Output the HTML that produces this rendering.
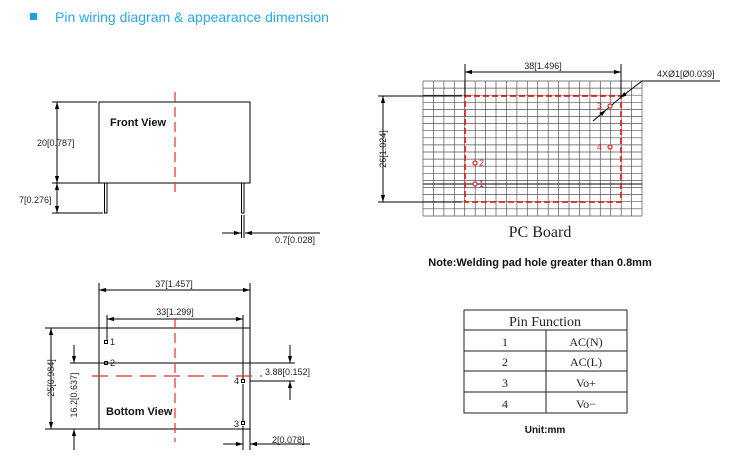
<!DOCTYPE html>
<html><head><meta charset="utf-8"><style>
html,body{margin:0;padding:0;background:#fff;}
svg{display:block;}
text{font-family:"Liberation Sans",sans-serif;}
.s{font-size:9px;fill:#222;}
text.serif{font-family:"Liberation Serif",serif;}
</style></head><body>
<svg width="750" height="462" viewBox="0 0 750 462" xmlns="http://www.w3.org/2000/svg">
<defs>
<marker id="a" viewBox="0 0 10 10" refX="10" refY="5" markerWidth="7" markerHeight="7" orient="auto-start-reverse"><path d="M0 2L10 5L0 8z" fill="#000"/></marker>
</defs>
<rect x="30" y="13" width="7" height="7" fill="#1aa0e6"/>
<text x="55" y="22" font-size="14" fill="#2aa8e2">Pin wiring diagram &amp; appearance dimension</text>

<!-- Front view -->
<g stroke="#000" stroke-width="1" fill="none">
<rect x="99" y="102" width="151" height="81"/>
<rect x="104.5" y="183" width="2.5" height="30"/>
<rect x="241.5" y="183" width="2.5" height="30"/>
<line x1="52" y1="102" x2="97" y2="102"/>
<line x1="52" y1="183" x2="99" y2="183"/>
<line x1="52" y1="213" x2="103" y2="213"/>
<line x1="57" y1="102" x2="57" y2="183" marker-start="url(#a)" marker-end="url(#a)"/>
<line x1="57" y1="183" x2="57" y2="213" marker-start="url(#a)" marker-end="url(#a)"/>
<line x1="241.5" y1="215" x2="241.5" y2="238"/>
<line x1="244" y1="215" x2="244" y2="238"/>
<line x1="222" y1="233" x2="241" y2="233" marker-end="url(#a)"/>
<line x1="265" y1="233" x2="245" y2="233" marker-end="url(#a)"/>
<line x1="265" y1="233" x2="320" y2="233"/>
</g>
<line x1="175" y1="92" x2="175" y2="197" stroke="#e03030" stroke-width="1.2" stroke-dasharray="10,5"/>
<text x="110" y="126" font-size="11" font-weight="bold" fill="#111">Front View</text>
<text x="37" y="146" class="s">20[0.787]</text>
<text x="19" y="203" class="s">7[0.276]</text>
<text x="275" y="243" class="s">0.7[0.028]</text>

<!-- PC board grid -->
<path stroke="#555" stroke-width="0.7" fill="none" d="
M423 81V216M433.4 81V216M443.9 81V216M454.3 81V216M464.7 81V216M475.2 81V216M485.6 81V216M496 81V216M506.4 81V216M516.9 81V216M527.3 81V216M537.7 81V216M548.2 81V216M558.6 81V216M569 81V216M579.5 81V216M589.9 81V216M600.3 81V216M610.7 81V216M621.2 81V216M631.6 81V216M642 81V216
M423 81H642M423 88.1H642M423 95.2H642M423 102.3H642M423 109.4H642M423 116.5H642M423 123.6H642M423 130.7H642M423 137.8H642M423 144.9H642M423 152H642M423 159.1H642M423 166.2H642M423 173.3H642M423 180.4H642M423 187.5H642M423 194.6H642M423 201.7H642M423 208.8H642M423 216H642"/>
<line x1="423" y1="184" x2="642" y2="184" stroke="#000" stroke-width="1.1"/>
<rect x="465" y="96" width="156" height="106" fill="none" stroke="#e02020" stroke-width="1.8" stroke-dasharray="6,3"/>
<g stroke="#000" stroke-width="1" fill="none">
<line x1="465" y1="64" x2="465" y2="96"/>
<line x1="621" y1="64" x2="621" y2="96"/>
<line x1="465" y1="72" x2="621" y2="72" marker-start="url(#a)" marker-end="url(#a)"/>
<line x1="378" y1="96" x2="462" y2="96"/>
<line x1="378" y1="202" x2="462" y2="202"/>
<line x1="383" y1="96" x2="383" y2="202" marker-start="url(#a)" marker-end="url(#a)"/>
<line x1="593" y1="121" x2="606" y2="110" marker-end="url(#a)"/>
<line x1="642" y1="81" x2="620" y2="98" marker-end="url(#a)"/>
<line x1="606" y1="110" x2="620" y2="98"/>
<line x1="642" y1="81" x2="720" y2="81"/>
</g>
<g fill="#fff" stroke="#e02020" stroke-width="1.2">
<circle cx="610" cy="106" r="2"/><circle cx="610" cy="147" r="2"/>
<circle cx="475" cy="163" r="2"/><circle cx="475" cy="184" r="2"/>
</g>
<g font-size="9" fill="#e02020">
<text x="597" y="109">3</text><text x="597" y="150">4</text>
<text x="479" y="166">2</text><text x="479" y="187">1</text>
</g>
<text x="543" y="69" class="s" text-anchor="middle">38[1.496]</text>
<text x="657" y="77" class="s">4XØ1[Ø0.039]</text>
<text x="0" y="0" class="s" text-anchor="middle" transform="translate(386,149) rotate(-90)">26[1.024]</text>
<text x="540" y="237" class="serif" font-size="16" text-anchor="middle" fill="#222">PC Board</text>
<text x="540" y="266" font-size="11" font-weight="bold" text-anchor="middle" fill="#111">Note:Welding pad hole greater than 0.8mm</text>

<!-- Table -->
<g stroke="#222" stroke-width="1" fill="none">
<rect x="464" y="310" width="163" height="103"/>
<line x1="464" y1="330" x2="627" y2="330"/>
<line x1="464" y1="351" x2="627" y2="351"/>
<line x1="464" y1="371" x2="627" y2="371"/>
<line x1="464" y1="392" x2="627" y2="392"/>
<line x1="546" y1="330" x2="546" y2="413"/>
</g>
<g font-size="12" fill="#222" text-anchor="middle">
<text class="serif" x="545" y="326" font-size="14">Pin Function</text>
<text class="serif" x="505" y="346">1</text><text class="serif" x="586" y="346">AC(N)</text>
<text class="serif" x="505" y="366">2</text><text class="serif" x="586" y="366">AC(L)</text>
<text class="serif" x="505" y="387">3</text><text class="serif" x="586" y="387">Vo+</text>
<text class="serif" x="505" y="408">4</text><text class="serif" x="586" y="408">Vo−</text>
</g>
<text x="545" y="433" font-size="10" font-weight="bold" text-anchor="middle" fill="#111">Unit:mm</text>

<!-- Bottom view -->
<g stroke="#000" stroke-width="1" fill="none">
<rect x="99" y="328" width="151" height="101"/>
<line x1="45" y1="328" x2="99" y2="328"/>
<line x1="45" y1="429" x2="99" y2="429"/>
<line x1="99" y1="283" x2="99" y2="328"/>
<line x1="250" y1="283" x2="250" y2="328"/>
<line x1="99" y1="290" x2="250" y2="290" marker-start="url(#a)" marker-end="url(#a)"/>
<line x1="107" y1="315" x2="107" y2="340"/>
<line x1="243" y1="315" x2="243" y2="379"/>
<line x1="243" y1="384" x2="243" y2="421"/>
<line x1="243" y1="426" x2="243" y2="450"/>
<line x1="250" y1="429" x2="250" y2="450"/>
<line x1="107" y1="319" x2="243" y2="319" marker-start="url(#a)" marker-end="url(#a)"/>
<line x1="70" y1="363" x2="295" y2="363"/>
<line x1="250" y1="381" x2="295" y2="381"/>
<line x1="51" y1="328" x2="51" y2="429" marker-start="url(#a)" marker-end="url(#a)"/>
<line x1="74" y1="345" x2="74" y2="363" marker-end="url(#a)"/>
<line x1="74" y1="450" x2="74" y2="429" marker-end="url(#a)"/>
<line x1="290" y1="345" x2="290" y2="363" marker-end="url(#a)"/>
<line x1="290" y1="400" x2="290" y2="381" marker-end="url(#a)"/>
<line x1="223" y1="444" x2="243" y2="444" marker-end="url(#a)"/>
<line x1="270" y1="444" x2="250" y2="444" marker-end="url(#a)"/>
<line x1="270" y1="444" x2="310" y2="444"/>
<rect x="104.5" y="340.5" width="3" height="3"/>
<rect x="104.5" y="361.5" width="3" height="3"/>
<rect x="241.5" y="379.5" width="3" height="3"/>
<rect x="241.5" y="421.5" width="3" height="3"/>
</g>
<line x1="92" y1="376" x2="262" y2="376" stroke="#e03030" stroke-width="1.2" stroke-dasharray="16,8"/>
<line x1="175" y1="318" x2="175" y2="442" stroke="#e03030" stroke-width="1.2" stroke-dasharray="10,5"/>
<g class="s">
<text x="174" y="287" text-anchor="middle">37[1.457]</text>
<text x="175" y="315" text-anchor="middle">33[1.299]</text>
<text x="110" y="345">1</text><text x="110" y="366">2</text>
<text x="234" y="384">4</text><text x="234" y="427">3</text>
<text x="265" y="375">3.88[0.152]</text>
<text x="272" y="443">2[0.078]</text>
<text x="0" y="0" text-anchor="middle" transform="translate(54,378) rotate(-90)">25[0.984]</text>
<text x="0" y="0" text-anchor="middle" transform="translate(77,395) rotate(-90)">16.2[0.637]</text>
</g>
<text x="106" y="415" font-size="11" font-weight="bold" fill="#111">Bottom View</text>
</svg>
</body></html>
